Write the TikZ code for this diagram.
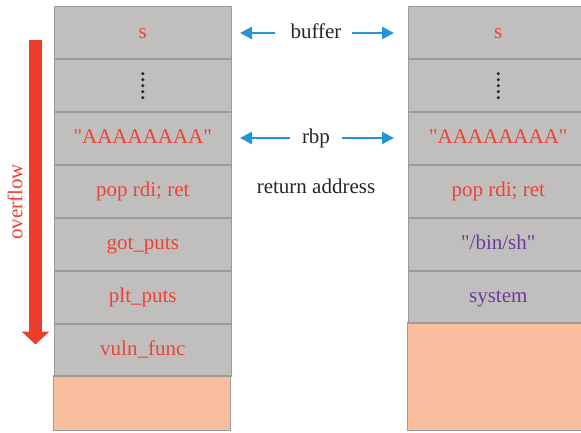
\documentclass[tikz,border=0pt]{standalone}
\usepackage{fontspec}
\setmainfont{Liberation Serif}[Ligatures=TeXOff]
\usetikzlibrary{arrows.meta}
\definecolor{cellgray}{HTML}{C1BFBD}
\definecolor{cellline}{HTML}{9B9B9B}
\definecolor{peach}{HTML}{F9BE9E}
\definecolor{redtxt}{HTML}{EE4236}
\definecolor{purp}{HTML}{6A3C9E}
\definecolor{bluearr}{HTML}{2494D6}
\definecolor{redarr}{HTML}{EE3D2A}
\begin{document}
\begin{tikzpicture}[x=1pt,y=-1pt,
  cell/.style={draw=cellline,line width=1.6pt,fill=cellgray,minimum width=177pt,minimum height=52.9pt,inner sep=0pt,anchor=north west,font=\fontsize{21}{25}\selectfont,text=redtxt,text height=13.5pt,text depth=3pt},
  rcell/.style={cell,minimum width=180pt},
  emptycell/.style={draw=cellline,line width=1.6pt,fill=peach},
  lbl/.style={font=\fontsize{21}{25}\selectfont,text=black!85,text height=13.5pt,text depth=3pt},
  barr/.style={draw=bluearr,line width=2.4pt,-{Triangle[length=12pt,width=12pt]}},
  dotc/.style={circle,fill=black!85,inner sep=0pt,minimum size=3.4pt}]
\useasboundingbox (0,0) rectangle (581,432);
% left stack
\node[cell] (l1) at (53.5,5.5) {s};
\node[cell] (l2) at (53.5,58.4) {};
\node[cell] (l3) at (53.5,111.3) {"AAAAAAAA"};
\node[cell] (l4) at (53.5,164.2) {pop rdi; ret};
\node[cell] (l5) at (53.5,217.1) {got\_puts};
\node[cell] (l6) at (53.5,270.0) {plt\_puts};
\node[cell] (l7) at (53.5,322.9) {vuln\_func};
\draw[emptycell] (53.5,375.8) rectangle (230.5,430.5);
% right stack
\begin{scope}
\clip (400,0) rectangle (581,432);
\node[rcell] (r1) at (407.5,5.5) {s};
\node[rcell] (r2) at (407.5,58.4) {};
\node[rcell] (r3) at (407.5,111.3) {"AAAAAAAA"};
\node[rcell] (r4) at (407.5,164.2) {pop rdi; ret};
\node[rcell,text=purp] (r5) at (407.5,217.1) {"/bin/sh"};
\node[rcell,text=purp] (r6) at (407.5,270.0) {system};
\draw[emptycell] (407.5,322.9) rectangle (590,430.5);
\end{scope}
% dots
\foreach \n in {l2,r2}{
  \foreach \k in {-2,-1,0,1,2}{
    \node[dotc] at ([yshift=\k*6pt]\n.center) {};
  }
}
% middle labels
\node[lbl] (buf) at (316,33) {buffer};
\node[lbl] (rbp) at (316,138) {rbp};
\node[lbl] (ret) at (316,188) {return address};
\coordinate (bufL) at (240,33);
\coordinate (bufR) at (394,33);
\coordinate (rbpL) at (240,138);
\coordinate (rbpR) at (394,138);
\draw[barr] ([xshift=-12pt]buf.west) -- (bufL);
\draw[barr] ([xshift=7pt]buf.east) -- (bufR);
\draw[barr] ([xshift=-8pt]rbp.west) -- (rbpL);
\draw[barr] ([xshift=8pt]rbp.east) -- (rbpR);
% overflow arrow
\coordinate (ovT) at (35.5,39.5);
\coordinate (ovB) at (35.5,344.5);
\draw[redarr,line width=12.7pt,-{Triangle[length=13pt,width=27pt]}] (ovT) -- (ovB);
\node[font=\fontsize{21}{25}\selectfont,text=redtxt,rotate=90] (ov) at (15,202) {overflow};
\end{tikzpicture}
\end{document}
